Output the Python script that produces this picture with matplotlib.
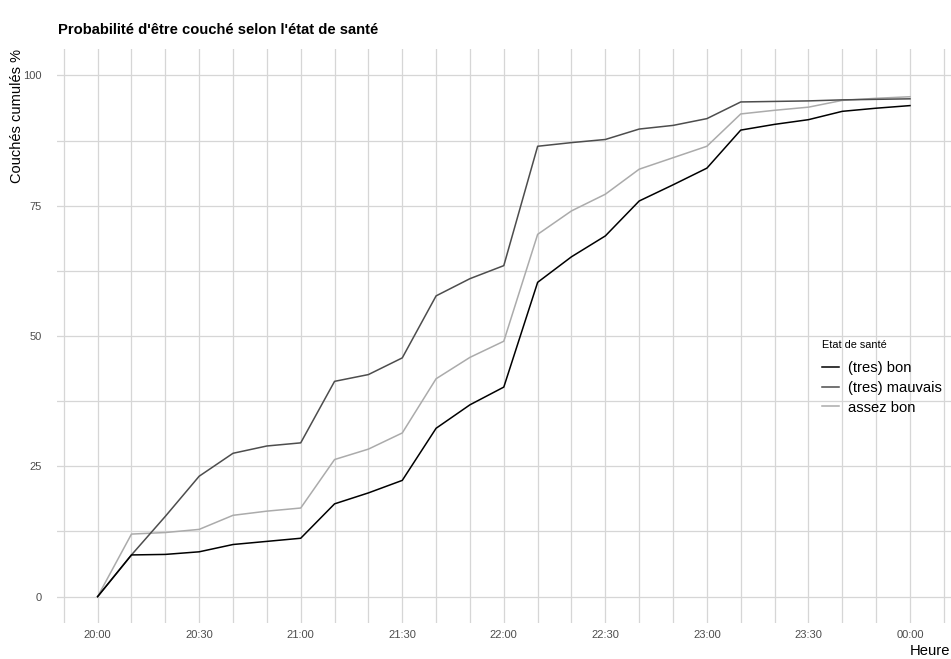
import matplotlib
matplotlib.use("Agg")
import matplotlib.pyplot as plt
import numpy as np

plt.rcParams['font.family'] = ['Liberation Sans', 'DejaVu Sans']

# minutes apres 20:00, pas de 10 min
minutes = list(range(0, 250, 10))
tick_min = [0, 30, 60, 90, 120, 150, 180, 210, 240]
tick_lab = ["20:00", "20:30", "21:00", "21:30", "22:00", "22:30", "23:00", "23:30", "00:00"]

bon = [0, 8.0, 8.1, 8.6, 10.0, 10.6, 11.2, 17.8, 19.9, 22.3, 32.3, 36.8, 40.2,
       60.3, 65.2, 69.2, 75.9, 79.0, 82.2, 89.5, 90.6, 91.5, 93.1, 93.7, 94.2]
mauvais = [0, 8.0, 15.4, 23.1, 27.5, 28.9, 29.5, 41.3, 42.6, 45.8, 57.7, 61.0, 63.5,
           86.4, 87.1, 87.7, 89.7, 90.4, 91.7, 94.9, 95.0, 95.1, 95.3, 95.4, 95.5]
assez_bon = [0, 12.0, 12.3, 12.9, 15.6, 16.4, 17.0, 26.3, 28.3, 31.4, 41.8, 45.9, 49.0,
             69.5, 74.0, 77.2, 82.0, 84.2, 86.4, 92.6, 93.3, 93.9, 95.2, 95.6, 95.9]

W, H = 951, 659
fig = plt.figure(figsize=(W / 100, H / 100), dpi=100)
ax = fig.add_axes([57 / W, 1 - 622.7 / H, (950.6 - 57) / W, (622.7 - 49.3) / H])

ax.plot(minutes, assez_bon, color='#ababab', lw=1.1, label='assez bon', zorder=3)
ax.plot(minutes, mauvais, color='#4d4d4d', lw=1.1, label='(tres) mauvais', zorder=4)
ax.plot(minutes, bon, color='black', lw=1.1, label='(tres) bon', zorder=5)

ax.set_xlim(-12, 252)
ax.set_ylim(-5, 105)
ax.set_xticks(tick_min)
ax.set_xticklabels(tick_lab)
ax.set_xticks(np.arange(-10, 251, 10), minor=True)
ax.set_yticks([0, 25, 50, 75, 100])
ax.set_yticks(np.arange(12.5, 100, 25), minor=True)
ax.grid(True, which='both', color='#d6d6d6', lw=0.9)
ax.set_axisbelow(True)
for s in ax.spines.values():
    s.set_visible(False)
ax.tick_params(which='both', length=0)
ax.tick_params(axis='x', labelsize=8, colors='#4d4d4d', pad=5)
ax.tick_params(axis='y', labelsize=8, colors='#4d4d4d', pad=11)

h, l = ax.get_legend_handles_labels()
order = [2, 1, 0]
leg = ax.legend([h[i] for i in order], [l[i] for i in order],
                title='Etat de santé', title_fontsize=7.8, fontsize=10.6,
                frameon=False, loc='upper left',
                bbox_to_anchor=(815 / W, 1 - 333 / H), bbox_transform=fig.transFigure,
                handlelength=1.15, handletextpad=0.6, labelspacing=0.4,
                borderpad=0, alignment='left')
leg._legend_box.sep = 7.5

fig.text(58 / W, 1 - 34 / H, "Probabilité d'être couché selon l'état de santé",
         fontsize=10.6, fontweight='bold', va='baseline', ha='left')
fig.text(17 / W, 1 - 49.3 / H, "Couchés cumulés %", rotation=90,
         fontsize=10.5, va='top', ha='center')
fig.text(950 / W, 1 - 650.7 / H, "Heure", fontsize=10.6, va='center', ha='right')

fig.savefig("out.png", dpi=100)
